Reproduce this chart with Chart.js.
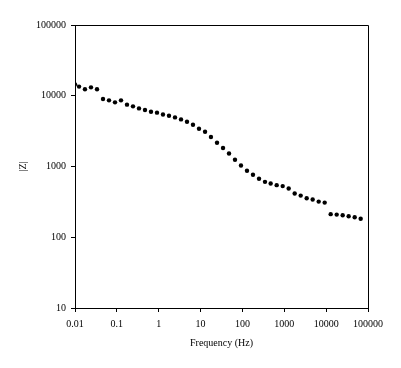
<!DOCTYPE html>
<html>
<head>
<meta charset="utf-8">
<script src="https://cdn.jsdelivr.net/npm/chart.js@4/dist/chart.umd.min.js"></script>
<style>
  body { margin: 0; background: #fff; }
  canvas { display: block; }
</style>
</head>
<body>
<canvas id="bode" width="401" height="368"></canvas>
<script>
// frequency (Hz) and |Z|
const freq = [0.01, 0.0125, 0.0173, 0.0241, 0.0336, 0.0467, 0.0649, 0.0903, 0.1256, 0.1746,
              0.243, 0.338, 0.470, 0.654, 0.910, 1.265, 1.76, 2.45, 3.41, 4.74,
              6.59, 9.17, 12.8, 17.7, 24.7, 34.4, 47.8, 66.4, 92.4, 128.5,
              178.7, 249, 346, 473, 658, 916, 1274, 1772, 2465, 3428,
              4768, 6636, 9230, 12830, 17860, 24830, 34510, 48080, 66830];
const modZ = [14500, 13460, 12330, 13150, 12330, 9010, 8610, 8065, 8610, 7480,
              7080, 6630, 6290, 5955, 5765, 5430, 5225, 4945, 4630, 4300,
              3895, 3420, 3100, 2610, 2165, 1822, 1528, 1244, 1033, 869,
              763, 670, 607, 574, 545, 528, 488, 415, 388, 356,
              341, 319, 309, 212, 209, 205, 198, 192, 183];
const xTicks = [0.01, 0.1, 1, 10, 100, 1000, 10000, 100000];
const yTicks = [10, 100, 1000, 10000, 100000];

const font = {family: "'Liberation Serif', 'Times New Roman', serif", size: 10};

// close the box on top and right
const frame = {
    id: 'frame',
    afterDraw(chart) {
        const {ctx, chartArea: a} = chart;
        ctx.save();
        ctx.strokeStyle = '#000';
        ctx.lineWidth = 1;
        ctx.beginPath();
        ctx.moveTo(a.left, a.top + 0.5);
        ctx.lineTo(a.right + 0.5, a.top + 0.5);
        ctx.lineTo(a.right + 0.5, a.bottom);
        ctx.stroke();
        ctx.restore();
    }
};

new Chart(document.getElementById('bode'), {
    type: 'scatter',
    data: {
        datasets: [{
            data: freq.map((f, i) => ({x: f, y: modZ[i]})),
            backgroundColor: '#000',
            borderWidth: 0,
            pointRadius: 2.2,
            pointHoverRadius: 2.2
        }]
    },
    options: {
        responsive: false,
        animation: false,
        layout: {padding: {top: 25, right: 33, left: 0, bottom: 0}},
        plugins: {legend: {display: false}, tooltip: {enabled: false}},
        scales: {
            x: {
                type: 'logarithmic',
                min: 0.01,
                max: 100000,
                afterBuildTicks: s => { s.ticks = xTicks.map(v => ({value: v})); },
                afterFit: s => { s.height = 60; },
                ticks: {color: '#000', font, padding: 6, maxRotation: 0, callback: v => String(v)},
                grid: {drawOnChartArea: false, tickLength: 4, color: '#000'},
                border: {color: '#000'},
                title: {display: true, text: 'Frequency (Hz)', color: '#000', font, padding: {bottom: 19}}
            },
            y: {
                type: 'logarithmic',
                min: 10,
                max: 100000,
                afterBuildTicks: s => { s.ticks = yTicks.map(v => ({value: v})); },
                afterFit: s => { s.width = 75; },
                ticks: {color: '#000', font, padding: 5, callback: v => String(v)},
                grid: {drawOnChartArea: false, tickLength: 4, color: '#000'},
                border: {color: '#000'},
                title: {display: true, text: '|Z|', color: '#000', font, padding: {top: 17}}
            }
        }
    },
    plugins: [frame]
});
</script>
</body>
</html>
